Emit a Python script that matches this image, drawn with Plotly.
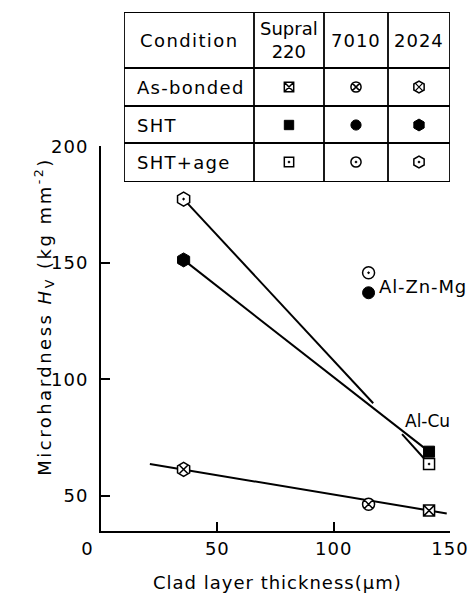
import plotly.graph_objects as go

# ---------------- data ----------------
alloys = ["Supral 220", "7010", "2024"]
conditions = ["As-bonded", "SHT", "SHT+age"]
thickness_um = [141, 115, 35.5]          # clad layer thickness per alloy
hv_as_bonded = [43.6, 46.3, 61.3]
hv_sht = [68.9, 137.1, 151.2]
hv_sht_age = [63.6, 145.7, 177.3]

# fitted lines
fit_asb_x = [21, 148.6]
fit_asb_y = [63.6, 42.4]
fit_sht_x = [35.5, 141]
fit_sht_y = [151.2, 68.9]
fit_age_x = [35.5, 117, None, 129.4, 141]
fit_age_y = [177.3, 89.7, None, 76.4, 63.6]

x_ticks = [0, 50, 100, 150]
y_ticks = [50, 100, 150, 200]

# ---------------- styles ----------------
FONT = "DejaVu Sans"
BLACK = "black"
shape_of = {"Supral 220": "square", "7010": "circle", "2024": "hexagon"}
size_of = {"Supral 220": 11, "7010": 12, "2024": 14}


def spaced(text, ls):
    return f'<span style="letter-spacing:{ls}px">{text}</span>'


def marker_style(cond, alloy, scale=1.0):
    base = shape_of[alloy]
    size = size_of[alloy] * scale
    if cond == "As-bonded":
        sym = base if alloy == "2024" else base + "-x"
        return dict(symbol=sym, size=size, color="white",
                    line=dict(color=BLACK, width=1.5)), alloy == "2024"
    if cond == "SHT":
        return dict(symbol=base, size=size, color=BLACK,
                    line=dict(color=BLACK, width=1)), False
    return dict(symbol=base + "-dot", size=size, color="white",
                line=dict(color=BLACK, width=1.5)), False


fig = go.Figure()

# fitted lines
for lx, ly in [(fit_asb_x, fit_asb_y), (fit_sht_x, fit_sht_y), (fit_age_x, fit_age_y)]:
    fig.add_trace(go.Scatter(x=lx, y=ly, mode="lines",
                             line=dict(color=BLACK, width=2),
                             connectgaps=False, showlegend=False, hoverinfo="skip"))

# data points
series = {"As-bonded": hv_as_bonded, "SHT": hv_sht, "SHT+age": hv_sht_age}
for cond in conditions:
    for i, alloy in enumerate(alloys):
        m, overlay_x = marker_style(cond, alloy)
        fig.add_trace(go.Scatter(x=[thickness_um[i]], y=[series[cond][i]], mode="markers",
                                 marker=m, showlegend=False))
        if overlay_x:
            fig.add_trace(go.Scatter(x=[thickness_um[i]], y=[series[cond][i]], mode="markers",
                                     marker=dict(symbol="x-thin", size=m["size"] * 0.6,
                                                 line=dict(color=BLACK, width=1.5)),
                                     showlegend=False))

# ---------------- table (drawn on a pixel-like overlay axis) ----------------
tbl_left, tbl_right, tbl_top, tbl_bottom = 124, 450, 12, 182
col_edges = [254, 324, 388]
row_edges = [68, 106, 143]
col_centers = [289, 356, 419]
row_centers = [87, 125, 162]
TBL_FONT = dict(family=FONT, size=18, color=BLACK)

fig.add_shape(type="rect", xref="x2", yref="y2", x0=tbl_left, x1=tbl_right,
              y0=tbl_top, y1=tbl_bottom, line=dict(color=BLACK, width=1.8),
              fillcolor="white", layer="below")
for cx in col_edges:
    fig.add_shape(type="line", xref="x2", yref="y2", x0=cx, x1=cx, y0=tbl_top, y1=tbl_bottom,
                  line=dict(color=BLACK, width=1.8))
for ry in row_edges:
    fig.add_shape(type="line", xref="x2", yref="y2", x0=tbl_left, x1=tbl_right, y0=ry, y1=ry,
                  line=dict(color=BLACK, width=1.8))

header_labels = ["Supral<br>220", "7010", "2024"]
header_ls = [0.0, 1.0, 1.0]
fig.add_annotation(xref="x2", yref="y2", x=(tbl_left + col_edges[0]) / 2, y=40,
                   text=spaced("Condition", 1.4), showarrow=False, font=TBL_FONT)
for j, lab in enumerate(header_labels):
    fig.add_annotation(xref="x2", yref="y2", x=col_centers[j], y=40,
                       text=spaced(lab, header_ls[j]), showarrow=False, font=TBL_FONT)
for r, cond in enumerate(conditions):
    fig.add_annotation(xref="x2", yref="y2", x=tbl_left + 11, y=row_centers[r],
                       text=spaced(cond, 1.3), xanchor="left", showarrow=False, font=TBL_FONT)
    for j, alloy in enumerate(alloys):
        m, overlay_x = marker_style(cond, alloy, scale=0.85)
        fig.add_trace(go.Scatter(x=[col_centers[j]], y=[row_centers[r]], xaxis="x2", yaxis="y2",
                                 mode="markers", marker=m, showlegend=False))
        if overlay_x:
            fig.add_trace(go.Scatter(x=[col_centers[j]], y=[row_centers[r]], xaxis="x2", yaxis="y2",
                                     mode="markers",
                                     marker=dict(symbol="x-thin", size=m["size"] * 0.6,
                                                 line=dict(color=BLACK, width=1.2)),
                                     showlegend=False))

# ---------------- labels ----------------
LBL_FONT = dict(family=FONT, size=18, color=BLACK)
fig.add_annotation(x=118.6, y=139.6, text=spaced("Al-Zn-Mg", 0.9), xanchor="left",
                   showarrow=False, font=LBL_FONT)
fig.add_annotation(x=129.8, y=82, text=spaced("Al-Cu", 0.0), xanchor="left",
                   showarrow=False, font=dict(family=FONT, size=17, color=BLACK))
fig.add_annotation(xref="paper", yref="y", x=-0.205, y=127, textangle=-90,
                   text=spaced("Microhardness <i>H</i><sub>V</sub> (kg mm<sup>-2</sup>)", 2.5),
                   showarrow=False, font=LBL_FONT)
fig.add_annotation(xref="x", yref="paper", x=76, y=-0.1, yanchor="middle",
                   text=spaced("Clad layer thickness(μm)", 1.0), showarrow=False,
                   font=LBL_FONT)

plot_h = 531 - 12
TICK_FONT = dict(family=FONT, size=18, color=BLACK)
x_ticktext = [spaced(str(v) + ("&nbsp;" * 4 if v == 0 else ""), 1.0) for v in x_ticks]
fig.update_layout(
    template="none",
    width=472, height=597,
    margin=dict(l=101, r=22, t=12, b=66, pad=0, autoexpand=False),
    paper_bgcolor="white", plot_bgcolor="white",
    font=dict(family=FONT, size=17, color=BLACK),
    xaxis=dict(domain=[0, 1], range=[0, 150], tickvals=x_ticks,
               ticktext=x_ticktext,
               ticks="inside", ticklen=9, tickfont=TICK_FONT, automargin=False,
               tickwidth=1.5, tickcolor=BLACK, showline=True, linewidth=2, linecolor=BLACK,
               showgrid=False, zeroline=False, anchor="y"),
    yaxis=dict(domain=[0, (531 - 146.2) / plot_h], range=[34.85, 200], tickvals=y_ticks,
               ticktext=[spaced(str(v), 1.0) for v in y_ticks], tickfont=TICK_FONT,
               automargin=False, ticklabelstandoff=7,
               ticks="inside", ticklen=9, tickwidth=1.5, tickcolor=BLACK, showline=True,
               linewidth=2, linecolor=BLACK, showgrid=False, zeroline=False, anchor="x"),
    xaxis2=dict(domain=[(tbl_left - 101) / 349, 1], range=[tbl_left, tbl_right], visible=False,
                anchor="y2", fixedrange=True, automargin=False),
    yaxis2=dict(domain=[(531 - tbl_bottom) / plot_h, 1], range=[tbl_bottom, tbl_top],
                visible=False, anchor="x2", fixedrange=True, automargin=False),
    showlegend=False,
)

fig.write_html("out.html")
